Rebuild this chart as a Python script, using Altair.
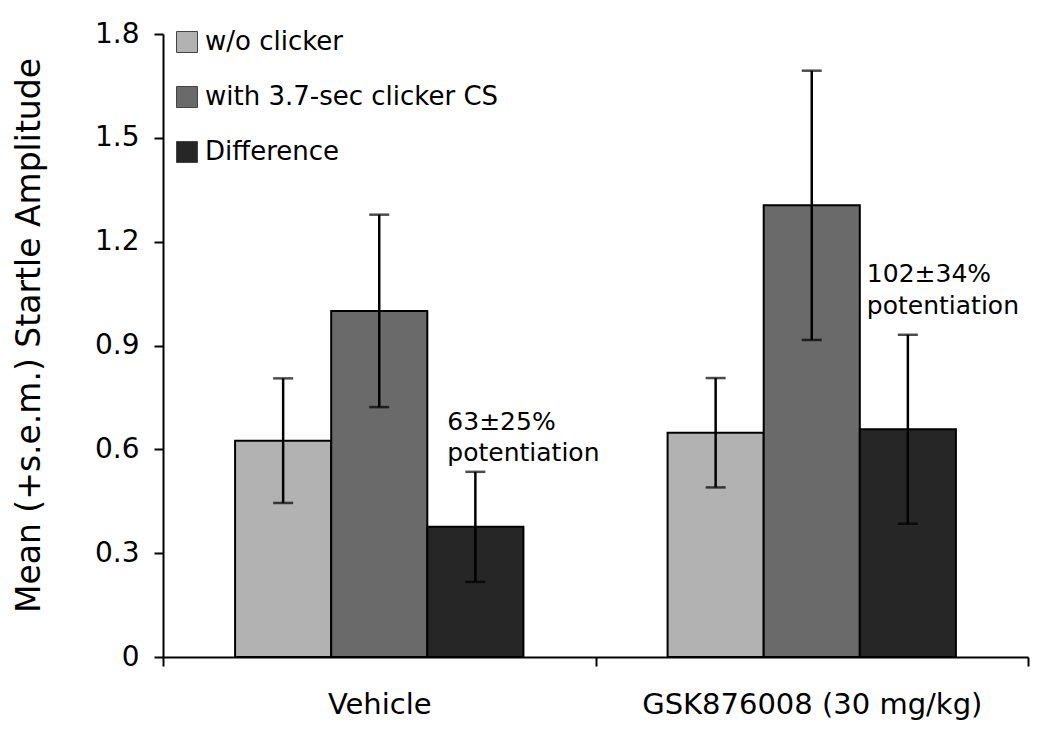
import altair as alt
import pandas as pd

groups = ["Vehicle", "GSK876008 (30 mg/kg)"]
series = ["w/o clicker", "with 3.7-sec clicker CS", "Difference"]
colors = ["#b2b2b2", "#6a6a6a", "#262626"]

mean_vehicle = [0.625, 1.000, 0.376]
sem_vehicle = [0.180, 0.278, 0.159]
mean_gsk = [0.648, 1.305, 0.658]
sem_gsk = [0.158, 0.389, 0.273]

ann_group = ["Vehicle", "Vehicle", "GSK876008 (30 mg/kg)", "GSK876008 (30 mg/kg)"]
ann_text = ["63±25%", "potentiation", "102±34%", "potentiation"]
ann_y = [0.680, 0.589, 1.108, 1.015]

y_ticks = [0, 0.3, 0.6, 0.9, 1.2, 1.5, 1.8]

rows = []
for g, means, sems in [(groups[0], mean_vehicle, sem_vehicle), (groups[1], mean_gsk, sem_gsk)]:
    for s, m, e in zip(series, means, sems):
        rows.append({"group": g, "series": s, "mean": m, "lo": m - e, "hi": m + e})
df = pd.DataFrame(rows)
ann = pd.DataFrame({"group": ann_group, "text": ann_text, "y": ann_y, "series": "Difference"})

FONT = "DejaVu Sans"

x_enc = alt.X(
    "group:N",
    sort=groups,
    scale=alt.Scale(paddingInner=0, paddingOuter=0),
    axis=alt.Axis(
        title=None, labelAngle=0, tickBand="extent", labelFontSize=29, labelFont=FONT,
        labelColor="black", labelPadding=24, labelLimit=0, tickSize=9, tickWidth=2,
        tickColor="black", domainColor="black", domainWidth=2, grid=False,
    ),
)
xo_enc = alt.XOffset("series:N", sort=series, scale=alt.Scale(paddingInner=0, paddingOuter=0.75))

bars = alt.Chart(df).mark_bar(stroke="black", strokeWidth=2).encode(
    x=x_enc,
    xOffset=xo_enc,
    y=alt.Y(
        "mean:Q",
        scale=alt.Scale(domain=[0, 1.8], nice=False),
        axis=alt.Axis(
            title="Mean (+s.e.m.) Startle Amplitude", titleFontSize=33, titleFont=FONT,
            titleFontWeight="normal", titleColor="black", titlePadding=48, titleY=301,
            values=y_ticks, labelExpr="datum.value == 0 ? '0' : format(datum.value, '.1f')",
            labelFontSize=28, labelFont=FONT, labelColor="black", labelPadding=15,
            tickSize=9, tickWidth=2, tickColor="black", domainColor="black", domainWidth=2,
            grid=False,
        ),
    ),
    fill=alt.Fill(
        "series:N",
        sort=series,
        scale=alt.Scale(domain=series, range=colors),
        legend=alt.Legend(
            title=None, orient="none", legendX=11, legendY=-5, symbolType="square",
            symbolSize=441, symbolStrokeColor="#444", symbolStrokeWidth=1,
            labelFontSize=26, labelFont=FONT, labelColor="black", labelOffset=5,
            labelLimit=0, rowPadding=29, padding=0,
        ),
    ),
)

rules = alt.Chart(df).mark_rule(color="black", strokeWidth=2.5).encode(
    x=alt.X("group:N", sort=groups), xOffset=alt.XOffset("series:N", sort=series),
    y="lo:Q", y2="hi:Q",
)
caps_hi = alt.Chart(df).mark_tick(color="black", thickness=2.5, size=20).encode(
    x=alt.X("group:N", sort=groups), xOffset=alt.XOffset("series:N", sort=series), y="hi:Q",
)
caps_lo = alt.Chart(df).mark_tick(color="black", thickness=2.5, size=20).encode(
    x=alt.X("group:N", sort=groups), xOffset=alt.XOffset("series:N", sort=series), y="lo:Q",
)

def ann_layer(g, dx):
    return alt.Chart(ann).transform_filter(alt.datum.group == g).mark_text(
        align="left", baseline="middle", fontSize=25, font=FONT, color="black", dx=dx
    ).encode(
        x=alt.X("group:N", sort=groups), xOffset=alt.XOffset("series:N", sort=series),
        y="y:Q", text="text:N",
    )

chart = alt.layer(
    bars, rules, caps_hi, caps_lo, ann_layer(groups[0], -28), ann_layer(groups[1], -41)
).properties(
    width=865, height=623,
    background="white",
    autosize=alt.AutoSizeParams(type="none"),
    padding={"left": 155, "top": 26, "right": 12, "bottom": 70},
).configure_view(strokeWidth=0)

chart.save("out.html", embed_options={"renderer": "svg", "actions": False})
